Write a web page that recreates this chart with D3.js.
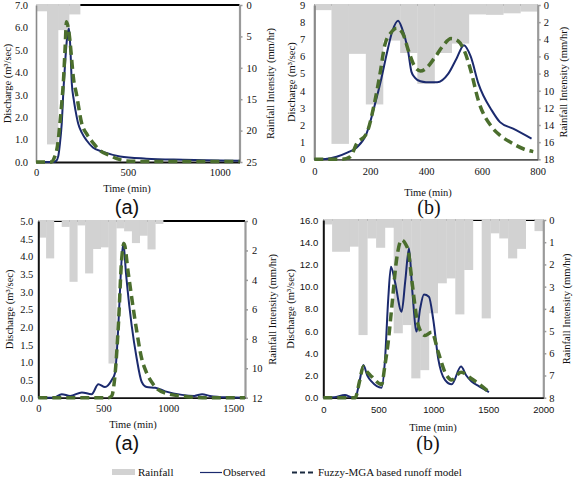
<!DOCTYPE html>
<html><head><meta charset="utf-8">
<script src="https://cdn.jsdelivr.net/npm/d3@7"></script>
<style>body{margin:0;background:#fff}</style>
</head><body>
<svg id="c" width="574" height="479"></svg>
<script>
// ---------- Panel (a) top ----------
const rainA = [1.0, 22.2, 4.0, 1.5];
const rainStepA = 60;
const tObsA = [0, 95, 110, 121, 130, 140, 150, 160, 170, 180, 188, 195, 205, 215, 230, 250, 275, 310, 366, 457, 600, 800, 1000, 1110];
const obsA  = [0, 0, 0.05, 0.25, 0.8, 1.7, 3.3, 4.6, 5.6, 5.95, 4.9, 3.5, 2.8, 2.3, 1.7, 1.3, 0.97, 0.65, 0.45, 0.25, 0.15, 0.1, 0.07, 0.05];
const tSimA = [0, 85, 100, 112, 121, 130, 140, 150, 158, 166, 175, 185, 194, 203, 221, 248, 280, 311, 350, 400, 440, 490, 600, 800, 1000, 1110];
const simA  = [0, 0, 0.2, 0.5, 0.97, 1.7, 2.6, 3.7, 5.0, 6.25, 6.0, 5.4, 4.6, 3.8, 3.0, 1.75, 1.2, 0.85, 0.5, 0.3, 0.15, 0.05, 0.02, 0.02, 0.02, 0.02];
const xTicksA = [0, 500, 1000];
const yTicksA = [0, 1, 2, 3, 4, 5, 6, 7];
const rTicksA = [0, 5, 10, 15, 20, 25];

// ---------- Panel (b) top ----------
const rainB = [0.6, 16.2, 5.7, 11.6, 4.15, 5.6, 9.2, 5.6, 4.5, 1.1, 1.15, 0.97, 0.77];
const rainStepB = 61.5;
const tObsB = [0, 40, 80, 120, 152, 187, 217, 240, 260, 280, 300, 315, 336, 348, 360, 380, 400, 440, 480, 510, 536, 560, 588, 636, 665, 712, 778];
const obsB  = [0, 0.02, 0.15, 0.4, 0.69, 1.5, 3.2, 4.7, 6.2, 7.5, 8.08, 7.6, 6.3, 5.1, 4.77, 4.55, 4.5, 4.5, 5.0, 5.9, 6.65, 6.0, 4.4, 2.84, 2.17, 1.79, 1.21];
const tSimB = [0, 100, 129, 152, 187, 217, 235, 253, 275, 295, 315, 340, 360, 380, 400, 430, 460, 490, 515, 538, 560, 588, 636, 665, 707, 750, 784];
const simB  = [0, 0, 0.15, 0.92, 1.5, 3.4, 4.96, 6.7, 7.4, 7.65, 7.4, 6.2, 5.4, 5.15, 5.3, 5.9, 6.6, 7.04, 6.9, 6.3, 5.2, 3.4, 1.88, 1.4, 0.95, 0.6, 0.45];
const xTicksB = [0, 200, 400, 600, 800];
const yTicksB = [0, 1, 2, 3, 4, 5, 6, 7, 8, 9];
const rTicksB = [0, 2, 4, 6, 8, 10, 12, 14, 16, 18];

// ---------- Panel (a) bottom ----------
const rainC = [1.13, 2.54, 0, 0.4, 4.13, 0.3, 3.56, 1.9, 1.79, 9.68, 0.5, 0.7, 1.5, 1.0, 1.93, 0.2];
const rainStepC = 60;
const tObsC = [0, 120, 180, 245, 335, 410, 462, 513, 565, 590, 616, 634, 654, 675, 700, 718, 757, 795, 834, 900, 977, 1105, 1200, 1260, 1320, 1450, 1590];
const obsC  = [0, 0, 0.1, 0.05, 0.15, 0.1, 0.38, 0.3, 0.5, 0.7, 2.05, 3.47, 4.39, 3.5, 2.6, 2.05, 1.11, 0.45, 0.3, 0.28, 0.18, 0.08, 0.05, 0.1, 0.05, 0.01, 0];
const tSimC = [0, 540, 565, 590, 616, 641, 659, 693, 750, 795, 834, 880, 911, 988, 1142, 1300, 1590];
const simC  = [0, 0, 0.05, 0.64, 2.05, 3.9, 4.36, 3.5, 2.05, 1.11, 0.7, 0.4, 0.26, 0.12, 0.03, 0, 0];
const xTicksC = [0, 500, 1000, 1500];
const yTicksC = [0, 0.5, 1, 1.5, 2, 2.5, 3, 3.5, 4, 4.5, 5];
const rTicksC = [0, 2, 4, 6, 8, 10, 12];

// ---------- Panel (b) bottom ----------
const rainD = [0.2, 1.43, 1.43, 1.2, 5.18, 0.83, 1.25, 0.35, 5.1, 4.73, 7.13, 6.76, 4.2, 2.85, 2.63, 4.25, 2.25, 0, 4.43, 0.6, 0.83, 1.73, 1.3, 0, 0.5];
const rainStepD = 80;
const tObsD = [0, 100, 197, 250, 290, 330, 364, 400, 440, 530, 560, 591, 615, 650, 712, 745, 779, 810, 848, 880, 915, 960, 1000, 1045, 1106, 1167, 1252, 1300, 1348, 1420, 1506];
const obsD  = [0, 0.05, 0.24, 0.05, 0, 1.5, 2.94, 2.0, 1.44, 0.9, 3.3, 9.0, 11.8, 10.5, 7.75, 10.5, 13.45, 9.5, 5.95, 8.0, 9.3, 9.1, 7.0, 3.5, 1.6, 1.2, 2.8, 2.0, 1.45, 1.0, 0.5];
const tSimD = [0, 290, 330, 364, 400, 440, 530, 560, 590, 621, 667, 712, 750, 773, 800, 818, 864, 924, 985, 1045, 1106, 1167, 1252, 1348, 1420, 1506];
const simD  = [0, 0, 1.5, 2.8, 2.3, 1.9, 1.2, 2.9, 5.0, 8.0, 12.5, 14.2, 13.8, 13.2, 11.0, 9.5, 6.5, 5.6, 5.9, 4.1, 2.3, 1.6, 2.3, 1.7, 1.2, 0.5];
const xTicksD = [0, 500, 1000, 1500, 2000];
const yTicksD = [0, 2, 4, 6, 8, 10, 12, 14, 16];
const rTicksD = [0, 1, 2, 3, 4, 5, 6, 7, 8];

const legendLabels = ["Rainfall", "Observed", "Fuzzy-MGA based runoff model"];

const svg = d3.select("#c");
const SERIF = "'Liberation Serif', 'Times New Roman', serif";
const SANS = "'Liberation Sans', Arial, sans-serif";
const OBS = "#1b2a6e", SIM = "#4b6e2d", RAIN = "#d2d2d2";

function setFont(sel, fam, size) {
  sel.style("font-family", fam).style("font-size", size + "px").attr("fill", "#111");
}

function panel(c) {
  const g = svg.append("g");
  const x = d3.scaleLinear().domain([0, c.xMax]).range([c.l, c.r]);
  const y = d3.scaleLinear().domain([0, c.yMax]).range([c.b, c.t]);
  const yr = d3.scaleLinear().domain([0, c.rMax]).range([c.t, c.b]);
  // top border
  g.append("line").attr("x1", c.l).attr("x2", c.r).attr("y1", c.t).attr("y2", c.t)
    .attr("stroke", "#000").attr("stroke-width", 2.2);
  // rainfall bars
  g.selectAll("rect.rain").data(c.rain).join("rect")
    .attr("x", (d, i) => x(i * c.step))
    .attr("width", (d, i) => x((i + 1) * c.step) - x(i * c.step) + 0.3)
    .attr("y", c.t - 1)
    .attr("height", d => Math.max(0, yr(d) - c.t + 1))
    .attr("fill", RAIN);
  // left axis
  const la = g.append("g").attr("transform", `translate(${c.l},0)`)
    .call(d3.axisLeft(y).tickValues(c.yTicks).tickSize(0).tickSizeOuter(0).tickPadding(c.lPad).tickFormat(d3.format(c.yFmt)));
  la.select(".domain").attr("stroke", c.leftColor).attr("stroke-width", c.leftW);
  setFont(la.selectAll("text"), c.tickFont, c.tickSize);
  // right axis
  const ra = g.append("g").attr("transform", `translate(${c.r},0)`)
    .call(d3.axisRight(yr).tickValues(c.rTicks).tickSize(3).tickSizeOuter(0).tickPadding(c.rPad).tickFormat(d3.format("d")));
  ra.select(".domain").attr("stroke", "#9a9a9a").attr("stroke-width", 2.2);
  ra.selectAll(".tick line").attr("stroke", "#9a9a9a").attr("stroke-width", 1.5);
  setFont(ra.selectAll("text"), SERIF, 10.5);
  // bottom axis
  const ba = g.append("g").attr("transform", `translate(0,${c.b})`)
    .call(d3.axisBottom(x).tickValues(c.xTicks).tickSize(0).tickSizeOuter(0).tickPadding(c.bPad).tickFormat(d3.format("d")));
  ba.select(".domain").attr("stroke", c.bottomColor).attr("stroke-width", 1.8);
  setFont(ba.selectAll("text"), c.tickFont, c.tickSize);
  // lines
  const line = d3.line().x(d => x(d[0])).y(d => y(d[1])).curve(d3.curveMonotoneX);
  g.append("path").datum(c.tObs.map((t, i) => [t, c.obs[i]]))
    .attr("d", line).attr("fill", "none").attr("stroke", OBS).attr("stroke-width", 2);
  g.append("path").datum(c.tSim.map((t, i) => [t, c.sim[i]]))
    .attr("d", line).attr("fill", "none").attr("stroke", SIM).attr("stroke-width", 3.5)
    .attr("stroke-dasharray", "9,5");
  // titles
  const midY = (c.t + c.b) / 2;
  setFont(g.append("text").attr("transform", `translate(${c.ltX},${midY}) rotate(-90)`)
    .attr("text-anchor", "middle").attr("dy", "0.35em")
    .text("Discharge (m³/sec)"), SERIF, 10.5);
  setFont(g.append("text").attr("transform", `translate(${c.rtX},${midY}) rotate(-90)`)
    .attr("text-anchor", "middle").attr("dy", "0.35em")
    .text("Rainfall Intensity (mm/hr)"), SERIF, 10.5);
  setFont(g.append("text").attr("x", c.titleX).attr("y", c.timeY).attr("dy", "0.35em")
    .attr("text-anchor", "middle").text("Time (min)"), SERIF, 10.5);
  setFont(g.append("text").attr("x", c.labX).attr("y", c.labY).attr("dy", "0.35em")
    .attr("text-anchor", "middle").text(c.lab), c.labFont, 20);
}

panel({l: 36, r: 239.5, t: 5, b: 162, xMax: 1108, yMax: 7, rMax: 25,
  rain: rainA, step: rainStepA, tObs: tObsA, obs: obsA, tSim: tSimA, sim: simA,
  xTicks: xTicksA, yTicks: yTicksA, rTicks: rTicksA, yFmt: ".1f",
  lPad: 8, rPad: 4, bPad: 7, tickFont: SERIF, tickSize: 10.5,
  leftColor: "#8a8a8a", leftW: 1.6, bottomColor: "#111",
  ltX: 7, rtX: 270, titleX: 127, timeY: 188, labX: 127, labY: 207, lab: "(a)", labFont: SANS});

panel({l: 314.3, r: 537.7, t: 5, b: 159.3, xMax: 800, yMax: 9, rMax: 18,
  rain: rainB, step: rainStepB, tObs: tObsB, obs: obsB, tSim: tSimB, sim: simB,
  xTicks: xTicksB, yTicks: yTicksB, rTicks: rTicksB, yFmt: "d",
  lPad: 9, rPad: 3, bPad: 8, tickFont: SERIF, tickSize: 10.5,
  leftColor: "#8a8a8a", leftW: 2.2, bottomColor: "#555",
  ltX: 291, rtX: 563, titleX: 428, timeY: 192, labX: 429, labY: 207, lab: "(b)", labFont: SERIF});

panel({l: 38.3, r: 245, t: 221, b: 397.7, xMax: 1590, yMax: 5, rMax: 12,
  rain: rainC, step: rainStepC, tObs: tObsC, obs: obsC, tSim: tSimC, sim: simC,
  xTicks: xTicksC, yTicks: yTicksC, rTicks: rTicksC, yFmt: ".1f",
  lPad: 5, rPad: 4, bPad: 7, tickFont: SERIF, tickSize: 10.5,
  leftColor: "#111", leftW: 2, bottomColor: "#111",
  ltX: 9, rtX: 272, titleX: 133, timeY: 424, labX: 127, labY: 443, lab: "(a)", labFont: SANS});

panel({l: 323.3, r: 543.3, t: 220, b: 397.7, xMax: 2000, yMax: 16, rMax: 8,
  rain: rainD, step: rainStepD, tObs: tObsD, obs: obsD, tSim: tSimD, sim: simD,
  xTicks: xTicksD, yTicks: yTicksD, rTicks: rTicksD, yFmt: ".1f",
  lPad: 5, rPad: 3, bPad: 9, tickFont: SANS, tickSize: 9.5,
  leftColor: "#111", leftW: 2, bottomColor: "#111",
  ltX: 290, rtX: 566.5, titleX: 433, timeY: 427, labX: 428, labY: 443, lab: "(b)", labFont: SERIF});

// legend
const lg = svg.append("g");
lg.append("rect").attr("x", 112).attr("y", 469).attr("width", 23).attr("height", 6).attr("fill", RAIN);
setFont(lg.append("text").attr("x", 138).attr("y", 472).attr("dy", "0.35em").text(legendLabels[0]), SERIF, 11);
lg.append("line").attr("x1", 200).attr("x2", 222).attr("y1", 472.5).attr("y2", 472.5).attr("stroke", OBS).attr("stroke-width", 1.2);
setFont(lg.append("text").attr("x", 223).attr("y", 472).attr("dy", "0.35em").text(legendLabels[1]), SERIF, 11);
lg.append("line").attr("x1", 292).attr("x2", 315).attr("y1", 472.5).attr("y2", 472.5).attr("stroke", "#1a2a40").attr("stroke-width", 2).attr("stroke-dasharray", "5,3");
setFont(lg.append("text").attr("x", 318).attr("y", 472).attr("dy", "0.35em").text(legendLabels[2]), SERIF, 11);
</script>
</body></html>
